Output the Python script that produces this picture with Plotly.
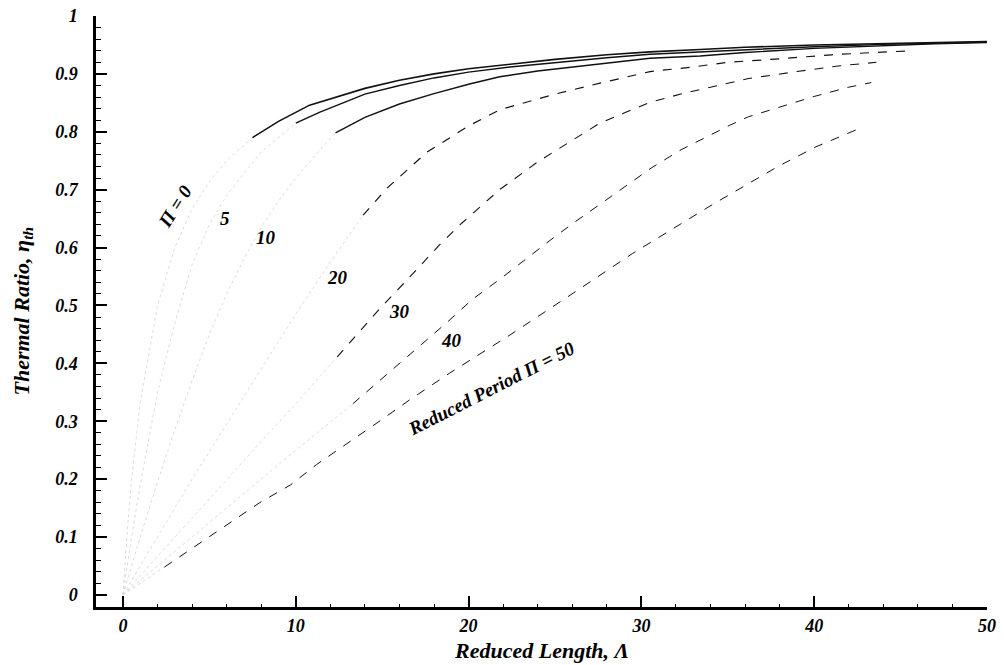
import plotly.graph_objects as go

# ---- data (Reduced Length Λ, Thermal Ratio η) ----
lam_p0 = [0, 0.25, 0.5, 1, 2, 3, 4, 5, 6, 7.5, 9, 10.8, 12, 14, 16, 18, 20, 22.4, 25, 28, 30.5, 33.4, 36, 40, 44.3, 47, 50]
eta_p0 = [0, 0.11, 0.2, 0.333, 0.5, 0.6, 0.667, 0.714, 0.75, 0.79, 0.818, 0.846, 0.857, 0.875, 0.889, 0.9, 0.909, 0.917, 0.925, 0.933, 0.938, 0.942, 0.946, 0.95, 0.953, 0.954, 0.956]

lam_p5 = [0, 0.5, 1, 2, 3, 4, 5, 6, 8, 10, 11.4, 14, 16, 18, 20, 22.4, 25, 28, 30.5, 33.4, 36, 40, 44, 47, 50]
eta_p5 = [0, 0.1, 0.19, 0.35, 0.47, 0.57, 0.64, 0.69, 0.765, 0.815, 0.834, 0.865, 0.88, 0.893, 0.903, 0.912, 0.92, 0.928, 0.934, 0.938, 0.942, 0.947, 0.951, 0.953, 0.955]

lam_p10 = [0, 1, 2, 3, 4, 5, 6, 7, 8, 9, 10, 11, 12.3, 14, 16, 18, 20, 21.8, 24, 27, 30.5, 33.4, 36, 40, 44, 47, 50]
eta_p10 = [0, 0.1, 0.195, 0.285, 0.37, 0.45, 0.52, 0.58, 0.635, 0.68, 0.72, 0.755, 0.798, 0.825, 0.848, 0.866, 0.882, 0.895, 0.905, 0.915, 0.927, 0.931, 0.937, 0.944, 0.949, 0.952, 0.954]

lam_p20 = [0, 2, 4, 6, 8, 10, 12, 13.9, 15.3, 17.6, 20, 21.8, 25, 27.6, 30.5, 33, 35, 38, 41, 43.5, 45.7]
eta_p20 = [0, 0.1, 0.2, 0.295, 0.39, 0.485, 0.575, 0.656, 0.703, 0.765, 0.81, 0.838, 0.865, 0.884, 0.904, 0.912, 0.92, 0.926, 0.933, 0.937, 0.94]

lam_p30 = [0, 4, 8, 10, 12.4, 15, 16.5, 18.3, 19.6, 21.8, 24, 27.6, 30.5, 32.4, 34.3, 36.2, 39, 41.5, 43.6]
eta_p30 = [0, 0.133, 0.265, 0.33, 0.411, 0.499, 0.546, 0.604, 0.642, 0.7, 0.748, 0.815, 0.851, 0.866, 0.879, 0.892, 0.904, 0.914, 0.92]

lam_p40 = [0, 5, 8.1, 10, 13.3, 16.6, 18.8, 20.2, 21.8, 24.7, 26, 28, 30.6, 32.3, 35.1, 36.2, 40, 42, 43.3]
eta_p40 = [0, 0.125, 0.202, 0.25, 0.33, 0.415, 0.472, 0.51, 0.545, 0.612, 0.641, 0.683, 0.738, 0.769, 0.811, 0.826, 0.861, 0.877, 0.885]

lam_p50 = [0, 2.4, 4.9, 7.9, 9.7, 11.2, 14.7, 16.6, 18.9, 22.4, 26.5, 29.5, 32.4, 34.1, 37.9, 40.1, 42.8]
eta_p50 = [0, 0.048, 0.098, 0.159, 0.19, 0.225, 0.297, 0.337, 0.383, 0.449, 0.53, 0.59, 0.643, 0.674, 0.74, 0.774, 0.808]

x_ticks = [0, 10, 20, 30, 40, 50]
y_ticks = [0, 0.1, 0.2, 0.3, 0.4, 0.5, 0.6, 0.7, 0.8, 0.9, 1]
y_tick_text = ["0", "0.1", "0.2", "0.3", "0.4", "0.5", "0.6", "0.7", "0.8", "0.9", "1"]

curve_names = ["Π = 0", "Π = 5", "Π = 10", "Π = 20", "Π = 30", "Π = 40", "Π = 50"]
curve_lams = [lam_p0, lam_p5, lam_p10, lam_p20, lam_p30, lam_p40, lam_p50]
curve_etas = [eta_p0, eta_p5, eta_p10, eta_p20, eta_p30, eta_p40, eta_p50]

# style: where the printed line becomes clearly visible, and its dash
split_at = [7.5, 10, 12.3, 13.9, 12.4, 13.3, 2.4]
dark_dash = ["solid", "solid", "solid", "dash", "dash", "dash", "dash"]
dark_width = [1.6, 1.4, 1.4, 1.2, 1.1, 1.0, 1.0]

FONT = "Liberation Serif"

fig = go.Figure()
for name, lx, ly, s, dsh, w in zip(curve_names, curve_lams, curve_etas, split_at, dark_dash, dark_width):
    lo = [i for i, v in enumerate(lx) if v <= s]
    hi = [i for i, v in enumerate(lx) if v >= s]
    fig.add_trace(go.Scatter(
        x=[lx[i] for i in lo], y=[ly[i] for i in lo], mode="lines",
        line=dict(color="#dcdcdc", width=1, dash="dot"),
        showlegend=False, hoverinfo="skip"))
    fig.add_trace(go.Scatter(
        x=[lx[i] for i in hi], y=[ly[i] for i in hi], mode="lines", name=name,
        line=dict(color="#111111", width=w, dash=dsh),
        showlegend=False))

lab_font = dict(family=FONT, size=19, color="black", weight="bold", style="italic")
curve_labels = [
    ("Π = 0", 3.0, 0.671, -58),
    ("5", 5.9, 0.651, 0),
    ("10", 8.3, 0.617, 0),
    ("20", 12.4, 0.549, 0),
    ("30", 16.0, 0.49, 0),
    ("40", 19.0, 0.44, 0),
    ("Reduced Period Π = 50", 21.3, 0.357, -27),
]
for txt, xx, yy, ang in curve_labels:
    fig.add_annotation(x=xx, y=yy, xref="x", yref="y", text=txt, showarrow=False,
                       textangle=ang, font=lab_font, xanchor="center", yanchor="middle")

title_font = dict(family=FONT, size=22, color="black", weight="bold", style="italic")
fig.add_annotation(x=0.5, y=0.0, xref="paper", yref="paper", yshift=-43,
                   text="Reduced Length, Λ", showarrow=False, font=title_font,
                   xanchor="center", yanchor="middle")
fig.add_annotation(x=0, y=0.5, xref="paper", yref="paper", xshift=-74,
                   text="Thermal Ratio, η<sub>th</sub>", showarrow=False, font=title_font,
                   textangle=-90, xanchor="center", yanchor="middle")

tick_font = dict(family=FONT, size=18, color="black", weight="bold", style="italic")
fig.update_xaxes(range=[-1.56, 50], tickvals=x_ticks, ticks="inside", ticklen=11, tickwidth=2,
                 tickcolor="black", showline=True, linecolor="black", linewidth=2.5,
                 showgrid=False, zeroline=False, tickfont=tick_font, ticklabelstandoff=1,
                 minor=dict(dtick=2, tick0=0, ticks="inside", ticklen=3, tickwidth=1, tickcolor="black"))
fig.update_yaxes(range=[-0.021, 1.0], tickvals=y_ticks, ticktext=y_tick_text, ticks="inside",
                 ticklen=11, tickwidth=2, tickcolor="black", showline=True, linecolor="black",
                 linewidth=2.5, showgrid=False, zeroline=False, tickfont=tick_font,
                 ticklabelstandoff=12,
                 minor=dict(dtick=0.02, tick0=0, ticks="inside", ticklen=5, tickwidth=1, tickcolor="black"))

fig.update_layout(width=1004, height=665, margin=dict(l=96, r=17, t=16, b=58, autoexpand=False),
                  plot_bgcolor="white", paper_bgcolor="white", showlegend=False)

fig.write_html("out.html")
